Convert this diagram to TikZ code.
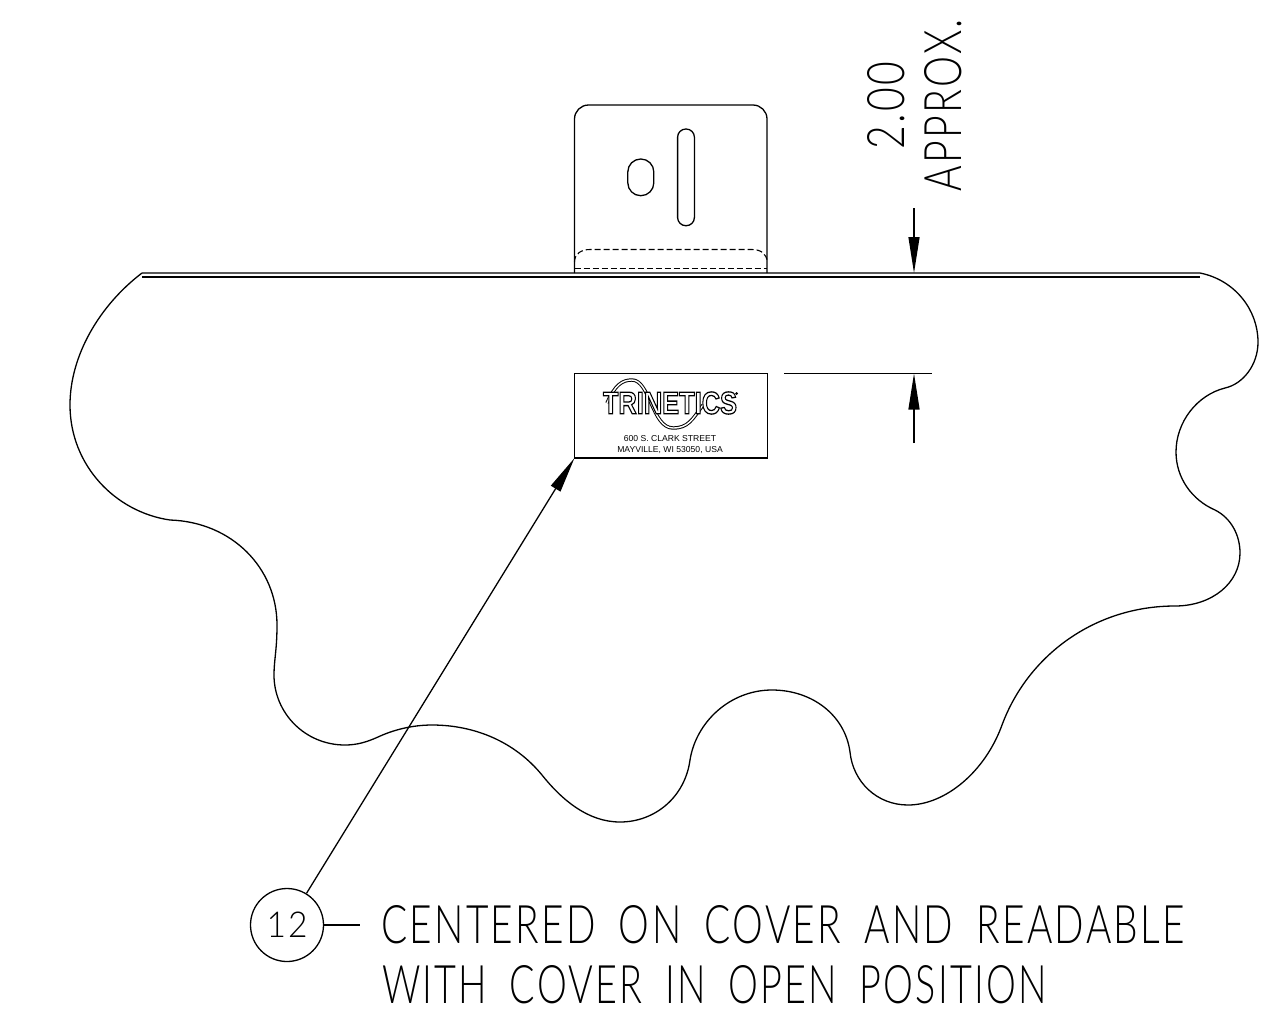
\documentclass[tikz,border=0pt]{standalone}
\usepackage{graphicx}
\usepackage{fontspec}
\setmainfont{Liberation Sans}
\newfontfamily\cadfont[UprightFont={* Light},LetterSpace=6,WordSpace=1.8]{Lato}
\newfontfamily\logofont{Liberation Sans}
\usetikzlibrary{arrows.meta}
\tikzset{
  x=1pt,y=-1pt,
  ln/.style={line width=1.3pt,black},
  dsh/.style={line width=1.1pt,dash pattern=on 6pt off 3pt},
  dimarrow/.style={line width=1.3pt,-{Triangle[length=36pt,width=11pt]}},
  cadtext/.style={inner sep=0pt,outer sep=0pt,anchor=north west,text=black},
}
\newcommand{\cadbox}[3]{\resizebox{#1pt}{#2pt}{\cadfont #3}}
\begin{document}
\begin{tikzpicture}
\useasboundingbox (0,0) rectangle (1274,1015);
% cover outline
\draw[ln] (142,273) -- (1200,273)
 .. controls (1235,280) and (1258,310) .. (1258,342)
 .. controls (1258,365) and (1243,384) .. (1225,388)
 .. controls (1197,395) and (1176,422) .. (1176,452)
 .. controls (1176,478) and (1192,500) .. (1215,510)
 .. controls (1231,518) and (1240,535) .. (1240,553)
 .. controls (1240,583) and (1212,606) .. (1175,606)
 .. controls (1095,606) and (1028,655) .. (1002,725)
 .. controls (985,772) and (945,805) .. (908,805)
 .. controls (877,805) and (853,782) .. (850,752)
 .. controls (845,715) and (812,690) .. (772,690)
 .. controls (730,690) and (696,722) .. (690,760)
 .. controls (685,797) and (655,822) .. (620,822)
 .. controls (588,822) and (562,800) .. (542,775)
 .. controls (515,742) and (475,725) .. (432,725)
 .. controls (412,725) and (393,730) .. (378,737)
 .. controls (367,742) and (357,745) .. (345,745)
 .. controls (305,745) and (274,713) .. (274,675)
 .. controls (274,660) and (277,650) .. (277,625)
 .. controls (277,568) and (232,522) .. (170,520)
 .. controls (115,512) and (70,465) .. (70,405)
 .. controls (70,355) and (100,305) .. (142,273);
\draw[ln,line width=1.1pt] (142,277) -- (1200,277);
% tab
\draw[ln,rounded corners=14pt] (574.5,273) -- (574.5,105) -- (767,105) -- (767,273);
\draw[ln,rounded corners=8.2pt] (677.6,129) rectangle (694.4,225.7);
\draw[ln,rounded corners=12.9pt] (627.8,159) rectangle (653.8,195.7);
\draw[dsh] (574.5,262) .. controls (574.5,254) and (581,249.5) .. (590,249.5) -- (752,249.5) .. controls (761,249.5) and (767,254) .. (767,262);
\draw[dsh] (574.5,268.5) -- (767,268.5);
% plate
\node[draw,line width=1.3pt,outer sep=0pt,minimum width=193pt,minimum height=84.5pt,inner sep=0pt,anchor=north west] (plate) at (574.5,373.5) {};
\draw[line width=3.4pt] (607,403) .. controls (615,385) and (622,380) .. (632,380) .. controls (650,380) and (652,428) .. (673,428) .. controls (688,428) and (692,420) .. (703,405);
\draw[line width=1.4pt,white] (607,403) .. controls (615,385) and (622,380) .. (632,380) .. controls (650,380) and (652,428) .. (673,428) .. controls (688,428) and (692,420) .. (703,405);
\node[inner sep=0pt] (logo) at (670,403) {\resizebox{134pt}{22pt}{\special{pdf:code q 2 Tr 0.4 w 1 1 1 rg 0 0 0 RG}\logofont\bfseries TRINETICS\special{pdf:code Q}}};
\coordinate (logodot) at (736.5,393.5);
\fill (logodot) circle[radius=1.5pt];
\node[inner sep=0pt,font=\fontsize{8.6}{10}\selectfont] (addr1) at (670,439) {600 S. CLARK STREET};
\node[inner sep=0pt,font=\fontsize{8.6}{10}\selectfont] (addr2) at (670,450) {MAYVILLE, WI 53050, USA};
% balloon
\node[draw,circle,line width=1.3pt,minimum size=73pt,inner sep=0pt] (c12) at (287,925) {\cadbox{41}{25.5}{12}};
\coordinate (noteA) at (360,925);
\draw[ln] (c12) -- (noteA);
\draw[dimarrow] (c12) -- (plate.south west);
% dimensions
\coordinate (extA) at (784,373.5);
\coordinate (extB) at (932,373.5);
\draw[ln] (extA) -- (extB);
\coordinate (dimLow) at (914,443);
\coordinate (dimLowTip) at (914,373.5);
\draw[dimarrow] (dimLow) -- (dimLowTip);
\coordinate (dimUp) at (914,208);
\coordinate (dimUpTip) at (914,273);
\draw[dimarrow] (dimUp) -- (dimUpTip);
% texts
\node[cadtext] (t1) at (381,905) {\cadbox{804}{38}{CENTERED ON COVER AND READABLE}};
\node[cadtext] (t2) at (382,965) {\cadbox{665}{38}{WITH COVER IN OPEN POSITION}};
\node[inner sep=0pt,rotate=90] (t3) at (886,105.5) {\cadbox{88}{37}{2.00}};
\node[inner sep=0pt,rotate=90] (t4) at (943,105) {\cadbox{172}{37}{APPROX.}};
\end{tikzpicture}
\end{document}
